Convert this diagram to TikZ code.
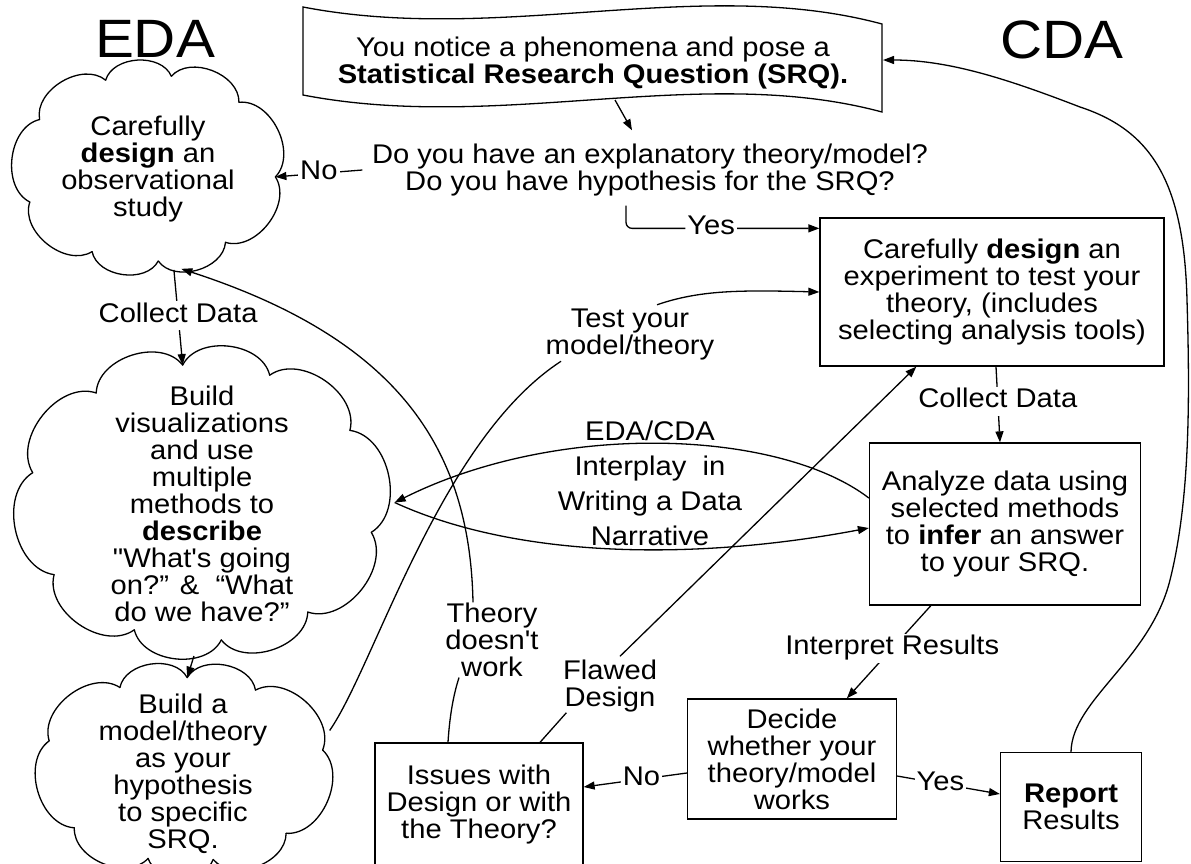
\documentclass[tikz,border=0pt]{standalone}
\usepackage{fontspec}
\setmainfont{Liberation Sans}[FakeStretch=1.08, Ligatures=TeXOff]
\setsansfont{Liberation Sans}[FakeStretch=1.08, Ligatures=TeXOff]
\tikzset{every picture/.style={/utils/exec={\sffamily}}}
\usetikzlibrary{calc}
\usetikzlibrary{positioning}
\usetikzlibrary{shapes.geometric,arrows.meta}

% cloud outline round an ellipse node: #1 node, #2 puffs, #3 first notch angle
\newcommand{\puffs}[3]{%
  \foreach \k in {1,...,#2}{
    \pgfmathtruncatemacro{\pa}{#3+360*(\k-1)/#2}
    \pgfmathtruncatemacro{\pb}{#3+360*\k/#2}
    \coordinate (#1-n\k) at ($(#1.center)!0.9!(#1.\pa)$);
    \draw[line cap=round] ($(#1.center)!0.9!(#1.\pa)$) to[bend right=70] ($(#1.center)!0.9!(#1.\pb)$);
  }}

\begin{document}
\begin{tikzpicture}[x=1pt, y=-1pt, line width=1.3pt,
  font=\fontsize{27}{27}\selectfont,
  >={Triangle[length=11pt,width=8pt]},
  box/.style={draw, rectangle, align=center, inner sep=0pt},
  blob/.style={ellipse, inner sep=0pt},
  lbl/.style={fill=white, inner sep=2pt, text height=19pt, text depth=6pt},
  note/.style={align=center, inner sep=0pt}]

  \useasboundingbox (0,0) rectangle (1191,863);

  \node (eda) at (155,39) {\fontsize{54}{54}\selectfont EDA};
  \node (cda) at (1062,40) {\fontsize{54}{54}\selectfont CDA};

  % banner with the research question
  \draw (303,7) .. controls (500,45) and (700,-25) .. (882,24)
    -- (882,112) .. controls (700,63) and (500,133) .. (303,95) -- cycle;
  \node[note] (srq) at (593,63) {You notice a phenomena and pose a\\
    \textbf{Statistical Research Question (SRQ).}};
  \coordinate (srqout) at (615,100);
  \coordinate (srqin) at (883,60);

  \node[note, inner sep=9pt] (q) at (650,170)
    {Do you have an explanatory theory/model?\\ Do you have hypothesis for the SRQ?};

  % EDA side
  \node[blob, minimum width=282pt, minimum height=206pt] (study) at (148.5,168) {};
  \puffs{study}{9}{-4}
  \node[note] (studytxt) at (148,169) {Carefully\\ \textbf{design} an\\ observational\\ study};

  \node[blob, minimum width=384pt, minimum height=306pt] (describe) at (202,502.5) {};
  \puffs{describe}{10}{98}
  \node[note] (describetxt) at (202,504)
    {Build\\ visualizations\\ and use\\ multiple\\ methods to\\ \textbf{describe}\\
     "What's going\\ on?” \&\ \ “What\\ do we have?”};

  \node[blob, minimum width=314pt, minimum height=203pt] (model) at (184,769.5) {};
  \puffs{model}{9}{8}
  \node[note] (modeltxt) at (183,774)
    {Build a\\ model/theory\\ as your\\ hypothesis\\ to specific\\ SRQ.};

  % CDA side
  \node[box, minimum width=344pt, minimum height=148pt] (experiment) at (992,292)
    {Carefully \textbf{design} an\\ experiment to test your\\ theory, (includes\\ selecting analysis tools)};
  \node[box, minimum width=271pt, minimum height=162pt] (analyze) at (1005,524)
    {Analyze data using\\ selected methods\\ to \textbf{infer} an answer\\ to your SRQ.};
  \node[box, minimum width=209pt, minimum height=120pt] (decide) at (792,759)
    {Decide\\ whether your\\ theory/model\\ works};
  \node[box, minimum width=141pt, minimum height=109pt] (report) at (1071,807)
    {\textbf{Report}\\ Results};
  \node[box, minimum width=208pt, minimum height=124pt] (issues) at (479,805)
    {Issues with\\ Design or with\\ the Theory?};

  % free labels
  \node[note] (theory) at (492,640) {Theory\\ doesn't\\ work};
  \node[note] (flawed) at (610,686) {Flawed\\ Design};
  \node[note] (test) at (630,335) {Test your\\ model/theory};
  \node[note, font=\fontsize{27}{35}\selectfont] (interplay) at (650,483)
    {EDA/CDA\\ Interplay\ \ in\\ Writing a Data\\ Narrative};

  % connectors
  \draw[->] (srqout) -- ($(q.north)+(-18,-4)$);
  \draw[->] (q.west) -- node[lbl] {No} (study-n1);
  \draw[->, rounded corners=6pt] ($(q.south)+(-24,0)$)
    |- node[lbl, pos=0.72] {Yes} ($(experiment.north west)+(0,11)$);

  \draw[->] (study.-76) -- node[lbl, pos=0.48] {Collect Data} (describe-n1);
  \draw[->] (describe.-93) -- (model-n3);

  \draw[->] ($(experiment.south)+(4,0)$) -- node[lbl, pos=0.46] {Collect Data} ($(analyze.north)+(-5,0)$);
  \draw[->] ($(analyze.south west)+(62,0)$) -- node[lbl, pos=0.46] {Interpret Results} ($(decide.north west)+(160,0)$);
  \draw[->] ($(decide.west)+(0,14)$) -- node[lbl, pos=0.44] {No} ($(issues.east)+(0,-18)$);
  \draw[->] ($(decide.east)+(0,17)$) -- node[lbl, pos=0.42] {Yes} ($(report.west)+(0,-13)$);

  \draw[->] (report.north) .. controls (1072,700) and (1150,660) .. (1170,580)
    .. controls (1190,500) and (1190,400) .. (1187,300)
    .. controls (1184,180) and (1150,130) .. (1080,107)
    .. controls (1010,80) and (950,60) .. (srqin);

  \draw[->] ($(analyze.west)+(0,-26)$) .. controls (780,430) and (560,420) .. (describe.east);
  \draw[->] (describe.east) .. controls (520,560) and (700,560) .. ($(analyze.west)+(0,4)$);

  \draw (model.15) .. controls (375,665) and (440,440) .. ($(test.south west)+(16,0)$);
  \draw[->] ($(test.north)+(27,-4)$) .. controls (700,290) and (740,290) .. (experiment.west);

  \draw ($(issues.north)+(61,0)$) -- ($(flawed.south west)+(4,0)$);
  \draw[->] ($(flawed.north)+(10,-3)$) -- ($(experiment.south west)+(97,0)$);

  \draw ($(issues.north)+(-31,0)$) .. controls (450,710) and (455,690) .. ($(theory.south)+(-33,0)$);
  \draw[->] ($(theory.north)+(-19,0)$) .. controls (470,450) and (400,340) .. (study.-72);
\end{tikzpicture}
\end{document}
